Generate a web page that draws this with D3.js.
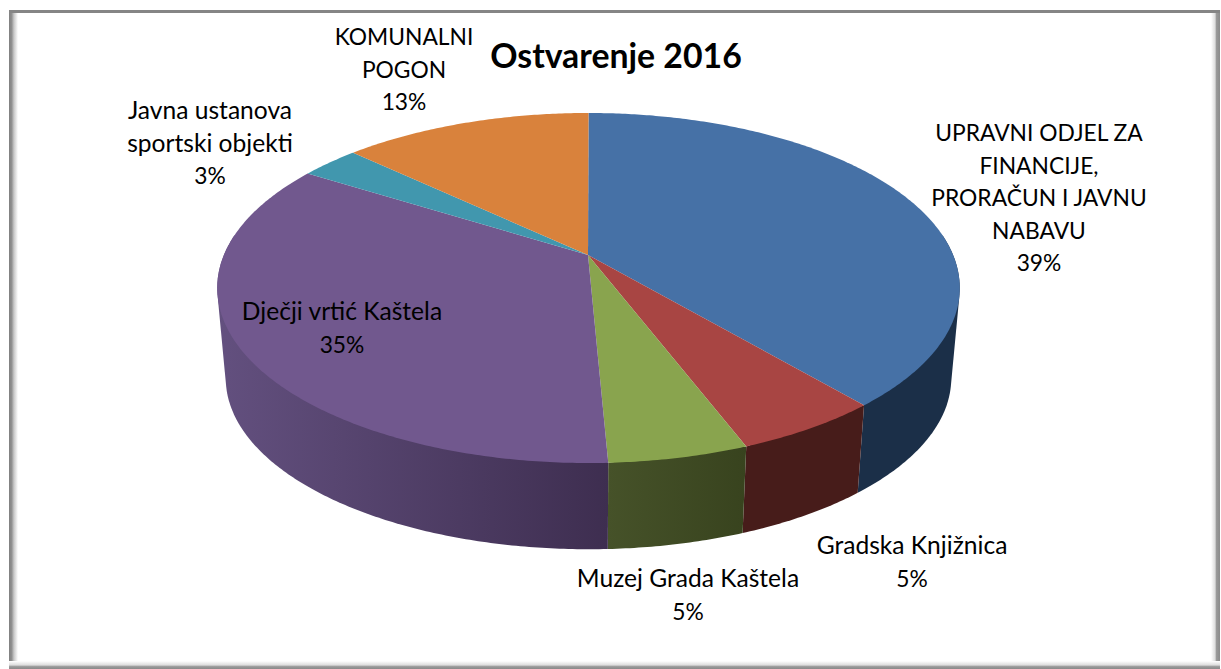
<!DOCTYPE html>
<html><head><meta charset="utf-8">
<script src="https://cdn.jsdelivr.net/npm/d3@7/dist/d3.min.js"></script>
<style>html,body{margin:0;padding:0;background:#fff}svg{display:block}text{font-family:Lato,Carlito,sans-serif;fill:#000}</style>
</head><body><svg id="c" width="1221" height="669"></svg>
<script>
const titleText = "Ostvarenje 2016";
const categories = ["UPRAVNI ODJEL ZA FINANCIJE, PRORAČUN I JAVNU NABAVU","Gradska Knjižnica","Muzej Grada Kaštela","Dječji vrtić Kaštela","Javna ustanova sportski objekti","KOMUNALNI POGON"];
const values = [38.8,5.4,5.1,34.6,3.1,13.0];
const labelLines = [["UPRAVNI ODJEL ZA","FINANCIJE,","PRORAČUN I JAVNU","NABAVU"],["Gradska Knjižnica"],["Muzej Grada Kaštela"],["Dječji vrtić Kaštela"],["Javna ustanova","sportski objekti"],["KOMUNALNI","POGON"]];
const topColors = ["#4671a6","#a84543","#89a44e","#71588e","#4197ae","#d9823c"];
const sideLight = ["#1b2f48","#471c1a","#465229","#63507f","#2a6070","#8a5226"];
const sideDark  = ["#1b2f48","#471c1a","#38431e","#3e2e50","#1c4550","#5a3418"];
const labelAnchors = [[1039,141],[912,554],[688,587],[342,320],[210,119],[404,45]];

const svg = d3.select("#c"), W = 1221, H = 669;
const defs = svg.append("defs");
function grad(id,x2,y2,stops){const g=defs.append("linearGradient").attr("id",id).attr("x1",0).attr("y1",0).attr("x2",x2).attr("y2",y2);
 stops.forEach(s=>g.append("stop").attr("offset",s[0]).attr("stop-color",s[1]));}
grad("gl",1,0,[[0,"#808080"],[0.3,"#909090"],[0.55,"#c8c8c8"],[1,"#ffffff"]]);
grad("gr",1,0,[[0,"#ffffff"],[0.45,"#dddddd"],[0.6,"#9a9a9a"],[1,"#8a8a8a"]]);
grad("gb",0,1,[[0,"#ffffff"],[0.5,"#dddddd"],[0.7,"#9a9a9a"],[1,"#8a8a8a"]]);
svg.append("rect").attr("width",W).attr("height",H).attr("fill","#fff");
svg.append("rect").attr("x",9).attr("y",12).attr("width",9).attr("height",656).attr("fill","url(#gl)");
svg.append("rect").attr("x",1211).attr("y",12).attr("width",9).attr("height",656).attr("fill","url(#gr)");
svg.append("rect").attr("x",9).attr("y",661).attr("width",1211).attr("height",8).attr("fill","url(#gb)");
svg.append("rect").attr("x",9).attr("y",10).attr("width",1211).attr("height",3).attr("fill","#858585");

// perspective projection of the pie disc
const k = 0.1886;
function project(a, bottom){
  const X = Math.sin(a), Y = -Math.cos(a), w = 1 - k*Y;
  const s = bottom ? 0.977 : 1;
  return [588.5 + 364.6*s*X/w, (bottom ? 346 : 255) + 168.8*s*Y/w];
}
const apex = [588,255];
const arcs = d3.pie().sort(null)(values);
const line = d3.line();
const step = 0.01;
const samples = (a0,a1)=>d3.range(a0,a1,step).concat([a1]);
const visMin = Math.acos(0.12), visMax = 2*Math.PI - visMin;

// side walls: hull of the slice's top and bottom rims, filled with a horizontal gradient
const sideG = svg.append("g");
arcs.forEach((d,i)=>{
  const a0 = Math.max(d.startAngle,visMin), a1 = Math.min(d.endAngle,visMax);
  if(a1<=a0) return;
  const as = samples(a0,a1);
  const hull = d3.polygonHull(as.map(a=>project(a,false)).concat(as.map(a=>project(a,true))));
  const xs = hull.map(p=>p[0]);
  const g = defs.append("linearGradient").attr("id","w"+i).attr("gradientUnits","userSpaceOnUse")
    .attr("x1",d3.min(xs)).attr("x2",d3.max(xs)).attr("y1",0).attr("y2",0);
  g.append("stop").attr("offset",0).attr("stop-color",sideLight[i]);
  g.append("stop").attr("offset",1).attr("stop-color",sideDark[i]);
  sideG.append("path").attr("d",line(hull)+"Z").attr("fill","url(#w"+i+")");
});
// top slices
svg.append("g").selectAll("path").data(arcs).join("path")
  .attr("d",d=>line([apex].concat(samples(d.startAngle,d.endAngle).map(a=>project(a,false))))+"Z")
  .attr("fill",(d,i)=>topColors[i]);

// labels: Lato runs wider on capitals than the original face, so sizes differ per line kind
const sizeOf = s => s===s.toUpperCase() ? 22.8 : 24.6;
const lab = svg.append("g").attr("text-anchor","middle");
labelLines.forEach((ls,i)=>{
  const [x,y]=labelAnchors[i], t=lab.append("text");
  ls.concat([d3.format(".0f")(values[i])+"%"]).forEach((s,j)=>t.append("tspan").attr("x",x).attr("y",y+j*32.5).attr("font-size",sizeOf(s)).text(s));
});
svg.append("text").attr("x",616).attr("y",68).attr("text-anchor","middle").attr("font-size",33.8).attr("font-weight",700).text(titleText);
</script></body></html>
